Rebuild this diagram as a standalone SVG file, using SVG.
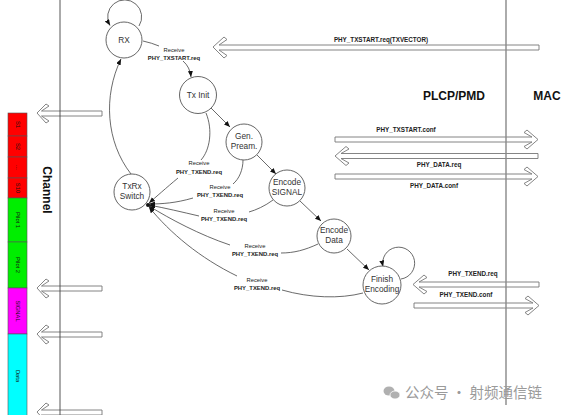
<svg xmlns="http://www.w3.org/2000/svg" width="562" height="415" viewBox="0 0 562 415">
<defs>
<marker id="ah" markerWidth="7" markerHeight="6" refX="6" refY="2.5" orient="auto" markerUnits="userSpaceOnUse"><path d="M0,0 L6,2.5 L0,5 z" fill="#111"/></marker>
<style>
.node circle{fill:#fff;stroke:#555;stroke-width:0.9}
.nt{font-family:"Liberation Sans",Arial,sans-serif;font-size:8.3px;fill:#333;text-anchor:middle}
.edge{fill:none;stroke:#444;stroke-width:0.8}
.lbl{font-family:"Liberation Sans",Arial,sans-serif;font-size:5.8px;fill:#222;text-anchor:middle}
.lblb{font-family:"Liberation Sans",Arial,sans-serif;font-size:5.9px;font-weight:bold;fill:#222;text-anchor:middle}
.big{fill:#fff;stroke:#777;stroke-width:0.9}
.ml{font-family:"Liberation Sans",Arial,sans-serif;font-size:6.3px;font-weight:bold;fill:#222;text-anchor:middle}
.blk{stroke:#555;stroke-width:0.6}
.bt{font-family:"Liberation Sans",Arial,sans-serif;font-size:5.8px;fill:#111;text-anchor:middle}
.hd{font-family:"Liberation Sans",Arial,sans-serif;font-size:12px;font-weight:bold;fill:#111}
</style>
</defs>
<rect width="562" height="415" fill="#fff"/>

<!-- channel column -->
<g id="channel">
<rect class="blk" x="8" y="113" width="19" height="23" fill="#ff0000"/>
<rect class="blk" x="8" y="136" width="19" height="21" fill="#ff0000"/>
<rect class="blk" x="8" y="157" width="19" height="21" fill="#ff0000"/>
<rect class="blk" x="8" y="178" width="19" height="20" fill="#ff0000"/>
<rect class="blk" x="8" y="198" width="19" height="44" fill="#00ee00"/>
<rect class="blk" x="8" y="242" width="19" height="46" fill="#00ee00"/>
<rect class="blk" x="8" y="288" width="19" height="46" fill="#ff00ff"/>
<rect class="blk" x="8" y="334" width="19" height="85" fill="#00ffff"/>
<text class="bt" transform="translate(15.5,124.5) rotate(90)">S1</text>
<text class="bt" transform="translate(15.5,146.5) rotate(90)">S2</text>
<text class="bt" transform="translate(15.5,167.5) rotate(90)">...</text>
<text class="bt" transform="translate(15.5,188) rotate(90)">S10</text>
<text class="bt" transform="translate(15.5,220) rotate(90)">Pilot 1</text>
<text class="bt" transform="translate(15.5,265) rotate(90)">Pilot 2</text>
<text class="bt" transform="translate(15.5,311) rotate(90)">SIGNAL</text>
<text class="bt" transform="translate(15.5,376) rotate(90)">Data</text>
<text class="hd" transform="translate(43,190) rotate(90)" text-anchor="middle">Channel</text>
</g>

<!-- left big arrows -->
<g id="chan-arrows">
<path class="big" d="M37,113 L46,104 L49,106 L41.5,111 L102,111 L102,116 L41.5,116 L49,121 L46,123 Z"/>
<path class="big" d="M37,288 L46,279 L49,281 L41.5,286 L102,286 L102,291 L41.5,291 L49,296 L46,298 Z"/>
<path class="big" d="M37,334 L46,325 L49,327 L41.5,332 L102,332 L102,337 L41.5,337 L49,342 L46,344 Z"/>
<path class="big" d="M37,412 L46,403 L49,405 L41.5,410 L102,410 L102,415 L41.5,415 L49,420 L46,422 Z"/>
</g>
<line x1="60" y1="0" x2="60" y2="415" stroke="#444" stroke-width="0.9"/>

<!-- MAC interface arrows -->
<g id="mac-arrows">
<path class="big" d="M213,47 L224,37 L227,39.5 L219,45 L539,45 L539,50 L219,50 L227,55.5 L224,58 Z"/>
<text class="ml" x="381" y="42">PHY_TXSTART.req(TXVECTOR)</text>
<path class="big" d="M538,139.5 L527,130 L524,132.5 L532,137 L335,137 L335,142 L532,142 L524,146.5 L527,149 Z"/>
<text class="ml" x="406" y="132">PHY_TXSTART.conf</text>
<path class="big" d="M335,156 L346,146.5 L349,149 L341,153.5 L538,153.5 L538,158.5 L341,158.5 L349,163 L346,165.5 Z"/>
<text class="ml" x="439" y="167">PHY_DATA.req</text>
<path class="big" d="M538,176.5 L527,167 L524,169.5 L532,174 L335,174 L335,179 L532,179 L524,183.5 L527,186 Z"/>
<text class="ml" x="434" y="188">PHY_DATA.conf</text>
<path class="big" d="M413,284.5 L424,275 L427,277.5 L419,282 L539,282 L539,287 L419,287 L427,291.5 L424,294 Z"/>
<text class="ml" x="473" y="276">PHY_TXEND.req</text>
<path class="big" d="M539,305.5 L528,296 L525,298.5 L533,303 L414,303 L414,308 L533,308 L525,312.5 L528,315 Z"/>
<text class="ml" x="466" y="297">PHY_TXEND.conf</text>
</g>
<line x1="506" y1="0" x2="506" y2="405" stroke="#888" stroke-width="1.4"/>
<text class="hd" x="454" y="100" text-anchor="middle">PLCP/PMD</text>
<text class="hd" x="547" y="100" text-anchor="middle">MAC</text>

<!-- connectors -->
<g id="connectors">
<path class="edge" d="M139,26 A17,17 0 1 0 110,25.5" marker-end="url(#ah)"/>
<path class="edge" d="M143,41 Q152,43 159,46"/>
<path class="edge" d="M183,61 Q190,67 191,77" marker-end="url(#ah)"/>
<path class="edge" d="M211,108 L230,127" marker-end="url(#ah)"/>
<path class="edge" d="M257,155 L276,174" marker-end="url(#ah)"/>
<path class="edge" d="M300,201 L321,221" marker-end="url(#ah)"/>
<path class="edge" d="M347,249 L369,270" marker-end="url(#ah)"/>
<path class="edge" d="M401,279 A16,16 0 1 0 383,266.5" marker-end="url(#ah)"/>
<path class="edge" d="M131,174 C106,142 103,96 121,59" marker-end="url(#ah)"/>
<path class="edge" d="M206,113 C213,130 210,150 201,160"/>
<path class="edge" d="M178,178 C166,188 156,197 149,203" marker-end="url(#ah)"/>
<path class="edge" d="M243,160 C243,170 239,179 233,184"/>
<path class="edge" d="M193,198 C176,203 162,204 149,204" marker-end="url(#ah)"/>
<path class="edge" d="M273,200 C265,206 256,210 249,212"/>
<path class="edge" d="M199,216 C182,212 165,208 149,205" marker-end="url(#ah)"/>
<path class="edge" d="M318,244 C305,250 294,253 281,253"/>
<path class="edge" d="M230,245 C200,235 170,219 149,206" marker-end="url(#ah)"/>
<path class="edge" d="M363,293 C340,299 310,298 282,290"/>
<path class="edge" d="M237,276 C200,258 170,233 149,207" marker-end="url(#ah)"/>
<circle cx="148" cy="205" r="2" fill="#111"/>
<text class="lbl" x="174" y="52">Receive</text>
<text class="lblb" x="174" y="60">PHY_TXSTART.req</text>
<text class="lbl" x="199" y="165">Receive</text>
<text class="lblb" x="199" y="174">PHY_TXEND.req</text>
<text class="lbl" x="220" y="189">Receive</text>
<text class="lblb" x="220" y="197">PHY_TXEND.req</text>
<text class="lbl" x="224" y="213">Receive</text>
<text class="lblb" x="224" y="221">PHY_TXEND.req</text>
<text class="lbl" x="255" y="248">Receive</text>
<text class="lblb" x="255" y="256">PHY_TXEND.req</text>
<text class="lbl" x="257" y="282">Receive</text>
<text class="lblb" x="257" y="290">PHY_TXEND.req</text>
</g>

<!-- nodes -->
<g id="rx" class="node"><circle cx="124" cy="40" r="18"/><text class="nt" x="124" y="43">RX</text></g>
<g id="txinit" class="node"><circle cx="198" cy="95" r="18.5"/><text class="nt" x="198" y="98">Tx Init</text></g>
<g id="genpream" class="node"><circle cx="244" cy="142" r="18"/><text class="nt" x="244" y="139">Gen.</text><text class="nt" x="244" y="149">Pream.</text></g>
<g id="encsignal" class="node"><circle cx="287" cy="188" r="18"/><text class="nt" x="287" y="185">Encode</text><text class="nt" x="287" y="195">SIGNAL</text></g>
<g id="encdata" class="node"><circle cx="334" cy="236" r="17"/><text class="nt" x="334" y="233">Encode</text><text class="nt" x="334" y="243">Data</text></g>
<g id="finish" class="node"><circle cx="382" cy="285" r="19"/><text class="nt" x="382" y="282">Finish</text><text class="nt" x="382" y="292">Encoding</text></g>
<g id="txrx" class="node"><circle cx="132" cy="192" r="18"/><text class="nt" x="132" y="189">TxRx</text><text class="nt" x="132" y="199">Switch</text></g>

<!-- watermark -->
<g id="watermark" fill="#b0b0b0">
<ellipse cx="389" cy="391" rx="5.5" ry="4.5"/>
<ellipse cx="395" cy="395" rx="5" ry="4" stroke="#fff" stroke-width="0.8"/>
<text x="405" y="398" font-family="'Noto Sans CJK SC',sans-serif" font-size="14.5" fill="#9a9a9a">公众号 · 射频通信链</text>
</g>
</svg>
